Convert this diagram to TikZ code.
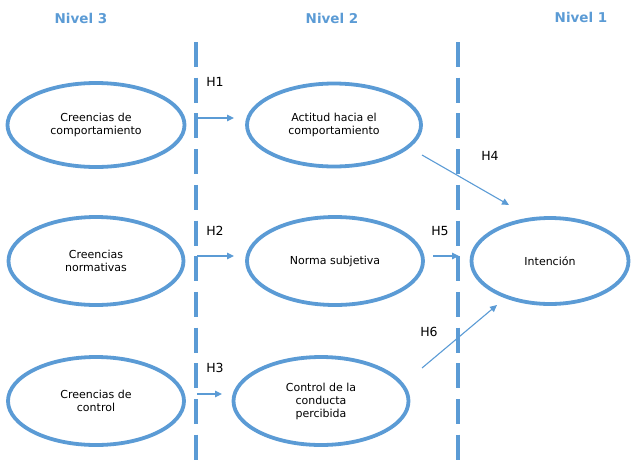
\documentclass[tikz,border=0pt]{standalone}
\usepackage{fontspec}
\setmainfont{DejaVu Sans}
\usetikzlibrary{shapes.geometric,arrows.meta}
\definecolor{mblue}{HTML}{5B9BD5}
\tikzset{
  oval/.style={ellipse, draw=mblue, line width=3.8pt, align=center, font=\fontsize{11}{13}\selectfont, inner sep=0pt},
  lvl/.style={text=mblue, font=\bfseries\fontsize{13.5}{16}\selectfont},
  hyp/.style={font=\fontsize{12.5}{15}\selectfont},
  sep/.style={draw=mblue, line width=3.3pt, dash pattern=on 25pt off 10.7pt},
  arr/.style={draw=mblue, line width=1.1pt, -{Triangle[length=7pt,width=6.5pt]}}
}
\begin{document}
\begin{tikzpicture}[x=1pt,y=-1pt]
\useasboundingbox (0,0) rectangle (631,461);
% headers
\node[lvl] (n3) at (81,18) {Nivel 3};
\node[lvl] (n2) at (332,18) {Nivel 2};
\node[lvl] (n1) at (581,17) {Nivel 1};
% separators
\coordinate (s1a) at (196,42); \coordinate (s1b) at (196,461);
\coordinate (s2a) at (458,42); \coordinate (s2b) at (458,461);
\draw[sep] (s1a) -- (s1b);
\draw[sep] (s2a) -- (s2b);
% ellipses
\node[oval, minimum width=177pt, minimum height=84pt] (e1) at (96,125) {Creencias de\\comportamiento};
\node[oval, minimum width=174pt, minimum height=83pt] (e2) at (334,125) {Actitud hacia el\\comportamiento};
\node[oval, minimum width=175pt, minimum height=88pt] (e3) at (96,261) {Creencias\\normativas};
\node[oval, minimum width=176pt, minimum height=88pt] (e4) at (335,261) {Norma subjetiva};
\node[oval, minimum width=157pt, minimum height=86pt] (e5) at (550,261) {Intención};
\node[oval, minimum width=176pt, minimum height=88pt] (e6) at (96,401) {Creencias de\\control};
\node[oval, minimum width=175pt, minimum height=88pt] (e7) at (321,401) {Control de la\\conducta\\percibida};
% hypothesis labels
\node[hyp] (h1) at (215,82) {H1};
\node[hyp] (h2) at (215,231) {H2};
\node[hyp] (h3) at (215,368) {H3};
\node[hyp] (h4) at (490,156) {H4};
\node[hyp] (h5) at (440,231) {H5};
\node[hyp] (h6) at (429,332) {H6};
% arrow endpoints
\coordinate (a1s) at (197,118); \coordinate (a1e) at (234,118);
\coordinate (a2s) at (197,256); \coordinate (a2e) at (234,256);
\coordinate (a3s) at (197,394); \coordinate (a3e) at (222,394);
\coordinate (a5s) at (433,256); \coordinate (a5e) at (459,256);
\coordinate (a4s) at (422,155); \coordinate (a4e) at (509,205);
\coordinate (a6s) at (422,368); \coordinate (a6e) at (497,305);
\draw[arr] (a1s) -- (a1e);
\draw[arr] (a2s) -- (a2e);
\draw[arr] (a3s) -- (a3e);
\draw[arr] (a5s) -- (a5e);
\draw[arr] (a4s) -- (a4e);
\draw[arr] (a6s) -- (a6e);
\end{tikzpicture}
\end{document}
